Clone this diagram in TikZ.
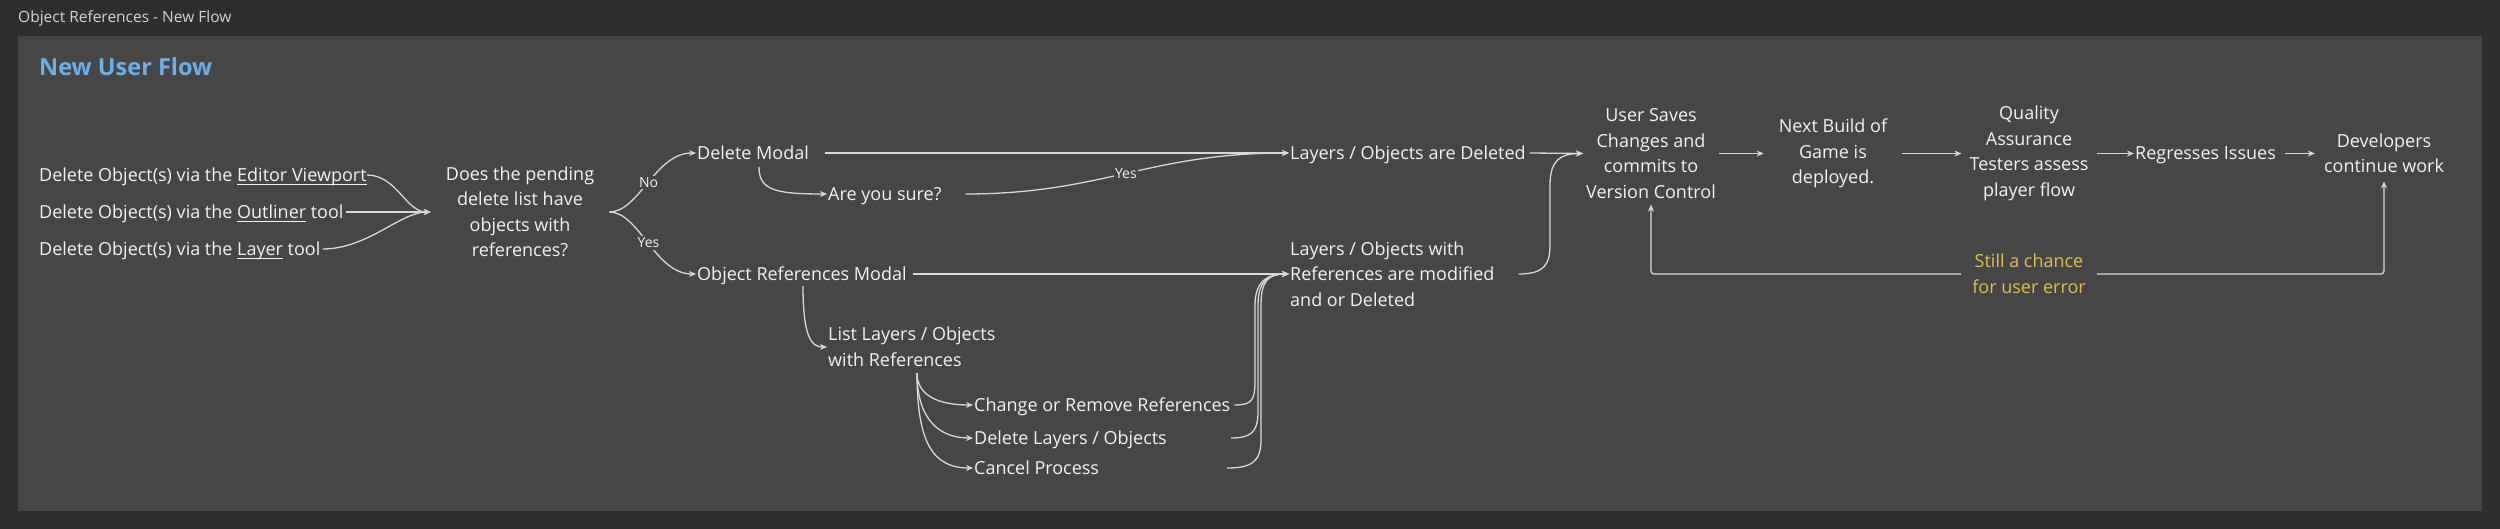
\documentclass[tikz,border=0pt]{standalone}
\usepackage{fontspec}
\setmainfont{Open Sans}
\usetikzlibrary{arrows.meta}
\definecolor{bgc}{HTML}{2E2E2E}
\definecolor{panelc}{HTML}{464646}
\definecolor{fgc}{HTML}{F2F2F2}
\definecolor{linec}{HTML}{D8D8D8}
\definecolor{headc}{HTML}{6AAEE8}
\definecolor{yelc}{HTML}{E2C04A}
\definecolor{titlec}{HTML}{D4D4D4}
\newcommand{\myul}[1]{{\setbox0\hbox{#1}\rlap{\vrule height -2.3pt depth 3.4pt width \wd0}\box0}}
\begin{document}
\begin{tikzpicture}[x=1pt,y=-1pt,
  txt/.style={inner sep=0pt, text=fgc, font=\fontsize{18}{25.5}\selectfont},
  oneline/.style={txt, text height=12.8pt, text depth=0pt, anchor=west},
  multiline/.style={txt, align=center},
  conn/.style={draw=linec, line width=1.3pt, -{Stealth[length=7pt,width=6pt]}},
  wire/.style={draw=linec, line width=1.3pt},
  lab/.style={fill=panelc, text=fgc, inner sep=1.5pt, font=\fontsize{14}{16}\selectfont},
]
\useasboundingbox (0,0) rectangle (2500,529);
\fill[bgc] (0,0) rectangle (2500,529);
\fill[panelc] (18,36) rectangle (2482,511);

% titles
\node[anchor=west, inner sep=0pt, text=titlec, font=\fontsize{15.5}{18}\selectfont] (title) at (18,18) {Object References - New Flow};
\node[anchor=west, inner sep=0pt, text=headc, font=\fontsize{23.5}{28}\selectfont\bfseries] (heading) at (39,67) {New User Flow};

% sources
\node[oneline] (src1) at (39,175) {Delete Object(s) via the \myul{Editor Viewport}};
\node[oneline, inner xsep=2pt] (src2) at (37,212) {Delete Object(s) via the \myul{Outliner} tool};
\node[oneline, inner xsep=2pt] (src3) at (37,249) {Delete Object(s) via the \myul{Layer} tool};

% question
\node[multiline, inner xsep=15pt] (q) at (520,212) {Does the pending\\delete list have\\objects with\\references?};

% branches
\node[oneline, inner xsep=1pt] (dm) at (696,153) {Delete Modal};
\node[oneline, inner xsep=1pt] (orm) at (696,274) {Object References Modal};
\node[oneline, inner xsep=1pt] (ays) at (827,194) {Are you sure?};
\node[oneline, inner xsep=1pt] (ld) at (1289,153) {Layers / Objects are Deleted};
\node[txt, align=left, anchor=west, inner xsep=1pt] (lwr) at (1289,274) {Layers / Objects with\\References are modified\\and or Deleted};
\node[txt, align=left, anchor=west, inner xsep=1pt] (lst) at (827,347) {List Layers / Objects\\with References};
\node[oneline, inner xsep=1pt] (ch) at (973,405) {Change or Remove References};
\node[oneline, inner xsep=1pt] (dl) at (973,438) {Delete Layers / Objects};
\node[oneline, inner xsep=1pt] (cp) at (973,468) {Cancel Process};

% main row
\node[multiline, inner xsep=3pt] (us) at (1651,153.5) {User Saves\\Changes and\\commits to\\Version Control};
\node[multiline, inner xsep=15pt] (nb) at (1833,153.5) {Next Build of\\Game is\\deployed.};
\node[multiline, inner xsep=8pt] (qa) at (2029,153.5) {Quality\\Assurance\\Testers assess\\player flow};
\node[oneline, inner xsep=1pt] (rg) at (2134,153.5) {Regresses Issues};
\node[multiline, inner xsep=9pt] (dv) at (2384,153.5) {Developers\\continue work};
\node[multiline, inner xsep=11pt, text=yelc] (ye) at (2029,274) {Still a chance\\for user error};

% connectors: sources -> question
\draw[conn] (src1.east) .. controls +(30,0) and +(-25,0) .. (q.west);
\draw[conn] (src2.east) -- (q.west);
\draw[conn] (src3.east) .. controls +(45,0) and +(-30,0) .. (q.west);

% question -> modals
\draw[conn] (q.east) .. controls +(30,0) and +(-41,0) .. (dm.west) node[lab, pos=0.5] {No};
\draw[conn] (q.east) .. controls +(30,0) and +(-41,0) .. (orm.west) node[lab, pos=0.5] {Yes};

% delete modal
\draw[conn] ([xshift=15pt]dm.east) -- (ld.west);
\draw[conn] ([shift={(63,14)}]dm.west) .. controls +(0,23) and +(-52,0) .. (ays.west);
\draw[conn] ([xshift=23pt]ays.east) .. controls +(136,0) and +(-140,0) .. (ld.west) node[lab, pos=0.5] {Yes};

% object references modal
\draw[conn] ([xshift=5pt]orm.east) -- (lwr.west);
\draw[conn] ([shift={(107,12)}]orm.west) .. controls +(0,50) and +(-16,0) .. (lst.west);

% list -> options
\coordinate (lstout) at ([shift={(90,26)}]lst.west);
\draw[conn] (lstout) .. controls +(0,25) and +(-30,0) .. (ch.west);
\draw[conn] (lstout) .. controls +(0,45) and +(-35,0) .. (dl.west);
\draw[conn] (lstout) .. controls +(0,70) and +(-40,0) .. (cp.west);

% options -> modified
\draw[conn] ([xshift=3pt]ch.east) .. controls +(18,0) and +(0,20) .. (1255,380) -- (1255,305) .. controls +(0,-25) and +(-20,0) .. (lwr.west);
\draw[conn] ([xshift=258pt]dl.west) .. controls +(20,0) and +(0,20) .. (1258,412) -- (1258,305) .. controls +(0,-25) and +(-20,0) .. (lwr.west);
\draw[conn] ([xshift=254pt]cp.west) .. controls +(24,0) and +(0,22) .. (1261,440) -- (1261,305) .. controls +(0,-25) and +(-20,0) .. (lwr.west);

% to user saves
\draw[conn] ([xshift=3pt]ld.east) -- (us.west);
\draw[conn] ([xshift=23pt]lwr.east) .. controls +(25,0) and +(0,20) .. (1550,245) -- (1550,185) .. controls +(0,-25) and +(-22,0) .. (us.west);

% main row
\draw[conn] (us.east) -- (nb.west);
\draw[conn] (nb.east) -- (qa.west);
\draw[conn] (qa.east) -- (rg.west);
\draw[conn] ([xshift=8pt]rg.east) -- (dv.west);

% feedback
\draw[conn, rounded corners=3pt] (ye.west) -| ([shift={(0,6)}]us.south);
\draw[conn, rounded corners=3pt] (ye.east) -| ([shift={(0,8)}]dv.south);
\end{tikzpicture}
\end{document}
